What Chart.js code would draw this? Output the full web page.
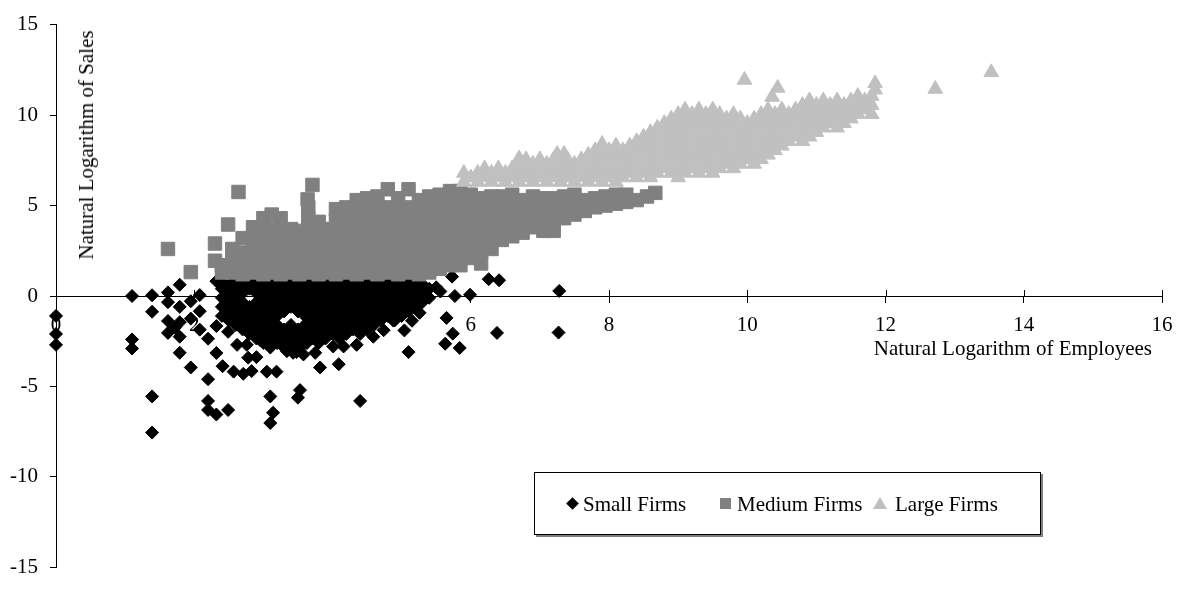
<!DOCTYPE html>
<html><head><meta charset="utf-8">
<script src="https://cdn.jsdelivr.net/npm/chart.js@4.4.1/dist/chart.umd.min.js"></script>
<style>
html,body{margin:0;padding:0;background:#fff;}
#wrap{position:relative;width:1180px;height:592px;overflow:hidden;font-family:"Liberation Serif","Times New Roman",serif;color:#000;}
#c{position:absolute;left:0;top:0;}
.t{position:absolute;font-size:21px;line-height:24px;white-space:nowrap;}
#ytitle{left:86px;top:144.5px;transform:translate(-50%,-50%) rotate(-90deg);}
#xtitle{right:28px;top:336px;}
#legend{position:absolute;left:534px;top:472px;width:505px;height:61px;border:1px solid #000;box-shadow:2px 2px 0 #7f7f7f;background:#fff;}
.mk{position:absolute;}
</style></head>
<body>
<div id="wrap">
<canvas id="c" width="1180" height="592"></canvas>
<div class="t" id="ytitle">Natural Logarithm of Sales</div>
<div class="t" id="xtitle">Natural Logarithm of Employees</div>
<div id="legend"></div>
<div class="mk" style="left:567.5px;top:498.5px;width:9px;height:9px;background:#000;transform:rotate(45deg);"></div>
<div class="t" style="left:583px;top:492px;">Small Firms</div>
<div class="mk" style="left:719.5px;top:497.5px;width:11px;height:11px;background:#808080;"></div>
<div class="t" style="left:737px;top:492px;">Medium Firms</div>
<div class="mk" style="left:873px;top:497px;width:0;height:0;border-left:7px solid transparent;border-right:7px solid transparent;border-bottom:12px solid #c0c0c0;"></div>
<div class="t" style="left:895px;top:492px;">Large Firms</div>
</div>
<script>
const seriesNames = ['Small Firms', 'Medium Firms', 'Large Firms'];
const xTickValues = [0, 2, 4, 6, 8, 10, 12, 14, 16];
const yTickValues = [-15, -10, -5, 0, 5, 10, 15];

const smallFirms = [
[0,-1.1],[0,-2.1],[0,-2.7],
[1.1,0],[1.1,-2.4],[1.1,-2.9],
[1.39,0.04],[1.39,-0.87],[1.39,-5.55],[1.39,-7.55],
[1.62,0.2],[1.62,-0.34],[1.62,-1.38],[1.62,-2.04],
[1.79,0.62],[1.79,-0.6],[1.79,-1.45],[1.72,-1.75],[1.79,-2.25],[1.79,-3.14],
[1.95,-3.95],[1.95,-0.29],[1.95,-1.25],[2.08,0.05],[2.08,-0.84],[2.08,-1.86],
[2.2,-2.36],[2.2,-4.6],[2.2,-5.8],[2.2,-6.3],[2.32,-3.15],[2.32,-1.66],[2.32,-6.55],[2.32,0.82],[2.47,0.93],
[2.41,-3.88],[2.49,-6.3],[2.49,-1.98],[2.57,-4.18],[2.62,-2.7],[2.71,-4.3],[2.76,-2.7],[2.83,-4.15],[2.78,-3.41],[2.9,-3.38],
[3.05,-4.18],[3.19,-4.18],[3.1,-5.55],[3.14,-6.45],[3.1,-7.02],[2.95,-2.43],
[3.53,-5.2],[3.5,-5.62],[3.82,-3.95],[3.75,-3.14],[4.09,-3.77],[4.35,-2.7],[4.4,-5.8],[3.58,-3.23],[3.43,-3.14],
[4.01,-2.79],[4.16,-2.79],[4.59,-2.25],[4.74,-1.89],[4.88,-1.36],[3.34,-3.05],[3.48,-3.1],[3.63,-2.6],
[5.73,1.07],[6.26,0.93],[6.41,0.87],[5.56,0.25],[5.77,0],[5.99,0.07],[5.65,-1.21],[5.74,-2.08],[5.63,-2.64],[5.84,-2.87],
[6.38,-2.04],[5.1,-3.1],[5.26,-0.93],[5.15,-1.37],[5.04,-1.9],[5.5,0.48],[7.28,0.28],[7.27,-2.02],
[2.4,0.9],[2.4,0.4],[2.4,-0.1],[2.4,-0.6],[2.4,-1.1],
[2.5,0.65],[2.5,0.15],[2.5,-0.35],[2.5,-0.85],[2.5,-1.35],
[2.6,0.9],[2.6,0.4],[2.6,-0.1],[2.6,-0.6],[2.6,-1.1],[2.6,-1.6],
[2.7,0.65],[2.7,0.15],[2.7,-0.35],[2.7,-0.85],[2.7,-1.35],[2.7,-1.85],
[2.8,0.9],[2.8,0.4],[2.8,-0.6],[2.8,-1.1],[2.8,-1.6],[2.8,-2.1],
[2.9,0.65],[2.9,0.15],[2.9,-0.35],[2.9,-0.85],[2.9,-1.35],[2.9,-1.85],[2.9,-2.35],
[3.0,0.9],[3.0,0.4],[3.0,-0.1],[3.0,-0.6],[3.0,-1.1],[3.0,-1.6],[3.0,-2.1],[3.0,-2.6],
[3.1,0.65],[3.1,0.15],[3.1,-0.35],[3.1,-0.85],[3.1,-1.35],[3.1,-1.85],[3.1,-2.35],[3.1,-2.85],
[3.2,0.9],[3.2,0.4],[3.2,-0.1],[3.2,-0.6],[3.2,-1.1],[3.2,-1.6],[3.2,-2.1],[3.2,-2.6],
[3.3,0.65],[3.3,0.15],[3.3,-0.35],[3.3,-0.85],[3.3,-1.85],[3.3,-2.35],[3.3,-2.85],
[3.4,0.9],[3.4,0.4],[3.4,-0.1],[3.4,-0.6],[3.4,-1.6],[3.4,-2.1],[3.4,-2.6],
[3.5,0.65],[3.5,0.15],[3.5,-0.35],[3.5,-0.85],[3.5,-1.85],[3.5,-2.35],[3.5,-2.85],
[3.6,0.9],[3.6,0.4],[3.6,-0.1],[3.6,-0.6],[3.6,-1.1],[3.6,-1.6],[3.6,-2.1],[3.6,-2.6],
[3.7,0.65],[3.7,0.15],[3.7,-0.35],[3.7,-0.85],[3.7,-1.35],[3.7,-1.85],[3.7,-2.35],
[3.8,0.9],[3.8,0.4],[3.8,-0.1],[3.8,-0.6],[3.8,-1.1],[3.8,-1.6],[3.8,-2.1],[3.8,-2.6],
[3.9,0.65],[3.9,0.15],[3.9,-0.35],[3.9,-0.85],[3.9,-1.35],[3.9,-1.85],[3.9,-2.35],
[4.0,0.9],[4.0,0.4],[4.0,-0.1],[4.0,-0.6],[4.0,-1.1],[4.0,-1.6],[4.0,-2.1],
[4.1,0.65],[4.1,0.15],[4.1,-0.35],[4.1,-0.85],[4.1,-1.35],[4.1,-1.85],[4.1,-2.35],
[4.2,0.9],[4.2,0.4],[4.2,-0.1],[4.2,-0.6],[4.2,-1.1],[4.2,-1.6],[4.2,-2.1],
[4.3,0.65],[4.3,0.15],[4.3,-0.35],[4.3,-0.85],[4.3,-1.35],[4.3,-1.85],
[4.4,0.9],[4.4,0.4],[4.4,-0.1],[4.4,-0.6],[4.4,-1.1],[4.4,-1.6],[4.4,-2.1],
[4.5,0.65],[4.5,0.15],[4.5,-0.35],[4.5,-0.85],[4.5,-1.35],[4.5,-1.85],
[4.6,0.9],[4.6,0.4],[4.6,-0.1],[4.6,-0.6],[4.6,-1.1],[4.6,-1.6],
[4.7,0.65],[4.7,0.15],[4.7,-0.35],[4.7,-0.85],[4.7,-1.35],
[4.8,0.9],[4.8,0.4],[4.8,-0.1],[4.8,-0.6],[4.8,-1.1],
[4.9,0.65],[4.9,0.15],[4.9,-0.35],[4.9,-0.85],[4.9,-1.35],
[5.0,0.9],[5.0,0.4],[5.0,-0.1],[5.0,-0.6],[5.0,-1.1],
[5.1,0.65],[5.1,0.15],[5.1,-0.35],[5.1,-0.85],
[5.2,0.9],[5.2,0.4],[5.2,-0.1],[5.2,-0.6],
[5.3,0.65],[5.3,0.15],[5.3,-0.35],
[5.4,0.4],[5.4,-0.1]
];

const mediumFirms = [
[1.62,2.6],[1.95,1.32],[2.3,2.9],[2.3,1.95],[2.49,3.95],[2.64,5.75],[3.71,6.14],[3.64,5.34],
[2.4,1.3],[2.4,1.7],
[2.55,1.3],[2.55,1.9],[2.55,2.6],
[2.7,1.2],[2.7,1.8],[2.7,2.4],[2.7,3.2],
[2.85,1.3],[2.85,1.9],[2.85,2.5],[2.85,3.1],[2.85,3.8],
[3.0,1.2],[3.0,1.8],[3.0,2.4],[3.0,3.0],[3.0,3.6],[3.0,4.3],
[3.12,1.3],[3.12,1.9],[3.12,2.5],[3.12,3.1],[3.12,3.7],[3.12,4.5],
[3.25,1.2],[3.25,1.8],[3.25,2.4],[3.25,3.0],[3.25,3.6],[3.25,4.3],
[3.4,1.3],[3.4,1.9],[3.4,2.5],[3.4,3.1],[3.4,3.7],
[3.52,1.2],[3.52,1.8],[3.52,2.4],[3.52,3.0],[3.52,3.6],
[3.65,1.3],[3.65,1.9],[3.65,2.5],[3.65,3.1],[3.65,3.7],[3.65,4.3],[3.65,4.9],
[3.8,1.2],[3.8,1.8],[3.8,2.4],[3.8,3.0],[3.8,3.6],[3.8,4.1],
[3.92,1.3],[3.92,1.9],[3.92,2.5],[3.92,3.1],[3.92,3.7],
[4.05,1.2],[4.05,1.8],[4.05,2.4],[4.05,3.0],[4.05,3.6],[4.05,4.2],[4.05,4.8],
[4.2,1.3],[4.2,1.9],[4.2,2.5],[4.2,3.1],[4.2,3.7],[4.2,4.3],[4.2,4.9],
[4.35,1.2],[4.35,1.8],[4.35,2.4],[4.35,3.0],[4.35,3.6],[4.35,4.2],[4.35,4.8],[4.35,5.3],
[4.5,1.3],[4.5,1.9],[4.5,2.5],[4.5,3.1],[4.5,3.7],[4.5,4.3],[4.5,4.9],[4.5,5.4],
[4.65,1.2],[4.65,1.8],[4.65,2.4],[4.65,3.0],[4.65,3.6],[4.65,4.2],[4.65,4.8],[4.65,5.5],
[4.8,1.3],[4.8,1.9],[4.8,2.5],[4.8,3.1],[4.8,3.7],[4.8,4.3],[4.8,4.9],[4.8,5.9],
[4.95,1.2],[4.95,1.8],[4.95,2.4],[4.95,3.0],[4.95,3.6],[4.95,4.2],[4.95,4.8],[4.95,5.4],
[5.1,1.3],[5.1,1.9],[5.1,2.5],[5.1,3.1],[5.1,3.7],[5.1,4.3],[5.1,4.9],[5.1,5.9],
[5.25,1.2],[5.25,1.8],[5.25,2.4],[5.25,3.0],[5.25,3.6],[5.25,4.2],[5.25,4.8],[5.25,5.3],
[5.4,1.3],[5.4,1.9],[5.4,2.5],[5.4,3.1],[5.4,3.7],[5.4,4.3],[5.4,4.9],[5.4,5.5],
[5.55,1.5],[5.55,2.0],[5.55,2.6],[5.55,3.2],[5.55,3.8],[5.55,4.4],[5.55,5.0],[5.55,5.6],
[5.7,1.7],[5.7,2.3],[5.7,2.9],[5.7,3.5],[5.7,4.1],[5.7,4.7],[5.7,5.3],[5.7,5.8],
[5.85,1.7],[5.85,2.2],[5.85,2.8],[5.85,3.4],[5.85,4.0],[5.85,4.6],[5.85,5.2],[5.85,5.8],
[6.0,2.1],[6.0,2.7],[6.0,3.3],[6.0,3.9],[6.0,4.5],[6.0,5.1],[6.0,5.6],
[6.15,1.8],[6.15,2.4],[6.15,3.0],[6.15,3.6],[6.15,4.2],[6.15,4.8],[6.15,5.4],
[6.3,2.6],[6.3,3.2],[6.3,3.8],[6.3,4.4],[6.3,5.0],[6.3,5.5],
[6.45,3.1],[6.45,3.7],[6.45,4.3],[6.45,4.9],[6.45,5.5],
[6.6,3.3],[6.6,3.9],[6.6,4.5],[6.6,5.1],[6.6,5.6],
[6.75,3.5],[6.75,4.1],[6.75,4.7],[6.75,5.3],
[6.9,3.8],[6.9,4.4],[6.9,5.0],[6.9,5.5],
[7.05,3.6],[7.05,4.2],[7.05,4.8],[7.05,5.4],
[7.2,3.6],[7.2,4.2],[7.2,4.8],[7.2,5.4],
[7.35,4.3],[7.35,4.9],[7.35,5.5],
[7.5,4.5],[7.5,5.1],[7.5,5.6],
[7.65,4.7],[7.65,5.3],
[7.8,4.9],[7.8,5.4],
[7.95,5.0],[7.95,5.5],
[8.1,5.1],[8.1,5.6],
[8.25,5.2],[8.25,5.6],
[8.4,5.3],[8.55,5.5],[8.67,5.7]
];

const largeFirms = [
[5.9,6.3],[5.9,6.8],[6.0,6.55],[6.1,6.3],[6.1,6.8],[6.2,6.55],[6.2,7.05],[6.3,6.3],[6.3,6.8],
[6.4,6.55],[6.4,7.05],[6.5,6.3],[6.5,6.8],[6.6,6.55],[6.6,7.05],
[6.7,6.3],[6.7,6.8],[6.7,7.3],[6.7,7.6],[6.8,6.55],[6.8,7.05],[6.8,7.55],
[6.9,6.3],[6.9,6.8],[6.9,7.3],[7.0,6.55],[7.0,7.05],[7.0,7.55],
[7.1,6.3],[7.1,6.8],[7.1,7.3],[7.2,6.55],[7.2,7.05],[7.2,7.55],[7.25,7.85],
[7.3,6.3],[7.3,6.8],[7.3,7.3],[7.35,7.85],[7.4,6.55],[7.4,7.05],[7.4,7.55],
[7.5,6.3],[7.5,6.8],[7.5,7.3],[7.6,6.55],[7.6,7.05],[7.6,7.55],
[7.7,6.3],[7.7,6.8],[7.7,7.3],[7.7,7.8],[7.8,6.55],[7.8,7.05],[7.8,7.55],[7.8,8.05],
[7.9,6.3],[7.9,6.8],[7.9,7.3],[7.9,7.8],[7.9,8.4],[8.0,6.55],[8.0,7.05],[8.0,7.55],[8.0,8.05],
[8.1,6.3],[8.1,6.8],[8.1,7.3],[8.1,7.8],[8.1,8.3],[8.2,6.55],[8.2,7.05],[8.2,7.55],[8.2,8.05],
[8.3,6.8],[8.3,7.3],[8.3,7.8],[8.3,8.3],[8.4,6.55],[8.4,7.05],[8.4,7.55],[8.4,8.05],[8.4,8.55],
[8.5,6.8],[8.5,7.3],[8.5,7.8],[8.5,8.3],[8.5,8.8],
[8.6,6.55],[8.6,7.05],[8.6,7.55],[8.6,8.05],[8.6,8.55],[8.6,9.05],
[8.7,6.8],[8.7,7.3],[8.7,7.8],[8.7,8.3],[8.7,8.8],[8.7,9.3],
[8.8,7.05],[8.8,7.55],[8.8,8.05],[8.8,8.55],[8.8,9.05],[8.8,9.55],
[8.9,6.8],[8.9,7.3],[8.9,7.8],[8.9,8.3],[8.9,8.8],[8.9,9.3],[8.9,9.8],
[9.0,6.55],[9.0,7.05],[9.0,7.55],[9.0,8.05],[9.0,8.55],[9.0,9.05],[9.0,9.55],[9.0,10.05],
[9.1,6.8],[9.1,7.3],[9.1,7.8],[9.1,8.3],[9.1,8.8],[9.1,9.3],[9.1,9.8],[9.1,10.3],
[9.2,7.05],[9.2,7.55],[9.2,8.05],[9.2,8.55],[9.2,9.05],[9.2,9.55],[9.2,10.05],
[9.3,6.8],[9.3,7.3],[9.3,7.8],[9.3,8.3],[9.3,8.8],[9.3,9.3],[9.3,9.8],[9.3,10.3],
[9.4,7.05],[9.4,7.55],[9.4,8.05],[9.4,8.55],[9.4,9.05],[9.4,9.55],[9.4,10.05],
[9.5,6.8],[9.5,7.3],[9.5,7.8],[9.5,8.3],[9.5,8.8],[9.5,9.3],[9.5,9.8],[9.5,10.3],
[9.6,7.05],[9.6,7.55],[9.6,8.05],[9.6,8.55],[9.6,9.05],[9.6,9.55],[9.6,10.05],
[9.7,7.3],[9.7,7.8],[9.7,8.3],[9.7,8.8],[9.7,9.3],[9.7,9.8],
[9.8,7.05],[9.8,7.55],[9.8,8.05],[9.8,8.55],[9.8,9.05],[9.8,9.55],[9.8,10.05],
[9.9,7.3],[9.9,7.8],[9.9,8.3],[9.9,8.8],[9.9,9.3],[9.9,9.8],[9.96,11.94],
[10.0,7.55],[10.0,8.05],[10.0,8.55],[10.0,9.05],[10.0,9.55],
[10.1,7.3],[10.1,7.8],[10.1,8.3],[10.1,8.8],[10.1,9.3],[10.1,9.8],
[10.2,7.55],[10.2,8.05],[10.2,8.55],[10.2,9.05],[10.2,9.55],[10.2,10.05],
[10.3,7.8],[10.3,8.3],[10.3,8.8],[10.3,9.3],[10.3,9.8],[10.3,10.3],[10.36,11.0],[10.44,11.5],
[10.4,8.05],[10.4,8.55],[10.4,9.05],[10.4,9.55],[10.4,10.05],
[10.5,8.3],[10.5,8.8],[10.5,9.3],[10.5,9.8],[10.5,10.3],
[10.6,8.55],[10.6,9.05],[10.6,9.55],[10.6,10.05],
[10.7,8.8],[10.7,9.3],[10.7,9.8],[10.7,10.3],
[10.8,8.55],[10.8,9.05],[10.8,9.55],[10.8,10.05],[10.8,10.55],
[10.9,8.8],[10.9,9.3],[10.9,9.8],[10.9,10.3],[10.9,10.8],
[11.0,9.05],[11.0,9.55],[11.0,10.05],[11.0,10.55],
[11.1,9.3],[11.1,9.8],[11.1,10.3],[11.1,10.8],
[11.2,9.55],[11.2,10.05],[11.2,10.55],
[11.3,9.3],[11.3,9.8],[11.3,10.3],[11.3,10.8],
[11.4,9.55],[11.4,10.05],[11.4,10.55],
[11.5,9.8],[11.5,10.3],[11.5,10.8],
[11.6,10.05],[11.6,10.55],[11.6,11.05],
[11.7,10.3],[11.7,10.8],
[11.8,10.05],[11.8,10.55],[11.8,11.05],
[11.85,11.4],[11.85,11.75],
[12.72,11.44],[13.53,12.36]
];

const toPts = arr => arr.map(p => ({x: p[0], y: p[1]}));

const crossTicks = {
  id: 'crossTicks',
  beforeDatasetsDraw(chart) {
    const {ctx, scales: {x, y}} = chart;
    const y0 = y.getPixelForValue(0);
    ctx.save();
    ctx.strokeStyle = '#000';
    ctx.lineWidth = 1;
    ctx.beginPath();
    xTickValues.forEach(v => {
      if (v === 0) return;
      const px = Math.round(x.getPixelForValue(v)) + 0.5;
      ctx.moveTo(px, y0 - 6);
      ctx.lineTo(px, y0);
    });
    ctx.stroke();
    ctx.restore();
  }
};

const fam = "'Liberation Serif', 'Times New Roman', serif";

new Chart(document.getElementById('c'), {
  type: 'scatter',
  data: {
    datasets: [
      {label: seriesNames[0], data: toPts(smallFirms), pointStyle: 'rectRot', pointRadius: 6.5, backgroundColor: '#000000', borderColor: '#000000', borderWidth: 1, order: 3, clip: 12},
      {label: seriesNames[1], data: toPts(mediumFirms), pointStyle: 'rect', pointRadius: 9.5, backgroundColor: '#808080', borderColor: '#808080', borderWidth: 1, order: 2, clip: 12},
      {label: seriesNames[2], data: toPts(largeFirms), pointStyle: 'triangle', pointRadius: 8.5, backgroundColor: '#c0c0c0', borderColor: '#c0c0c0', borderWidth: 1, order: 1, clip: 12}
    ]
  },
  options: {
    responsive: false,
    animation: false,
    devicePixelRatio: 1,
    events: [],
    layout: {padding: {left: 10, right: 18, top: 17, bottom: 14}},
    plugins: {legend: {display: false}, tooltip: {enabled: false}},
    scales: {
      x: {
        type: 'linear', position: {y: 0}, min: 0, max: 16,
        afterBuildTicks: s => { s.ticks = xTickValues.map(v => ({value: v})); },
        ticks: {font: {family: fam, size: 21, lineHeight: 1.65}, color: '#000', padding: 6, maxRotation: 0, autoSkip: false, callback: v => String(v)},
        grid: {drawOnChartArea: false, color: '#000', tickLength: 6, tickWidth: 1},
        border: {color: '#000', width: 1}
      },
      y: {
        type: 'linear', position: 'left', min: -15, max: 15,
        afterBuildTicks: s => { s.ticks = yTickValues.map(v => ({value: v})); },
        afterFit: s => { s.width = 46; },
        ticks: {font: {family: fam, size: 21}, color: '#000', padding: 12, autoSkip: false, callback: v => String(v)},
        grid: {drawOnChartArea: false, color: '#000', tickLength: 6, tickWidth: 1},
        border: {color: '#000', width: 1}
      }
    }
  },
  plugins: [crossTicks]
});
</script>
</body></html>
